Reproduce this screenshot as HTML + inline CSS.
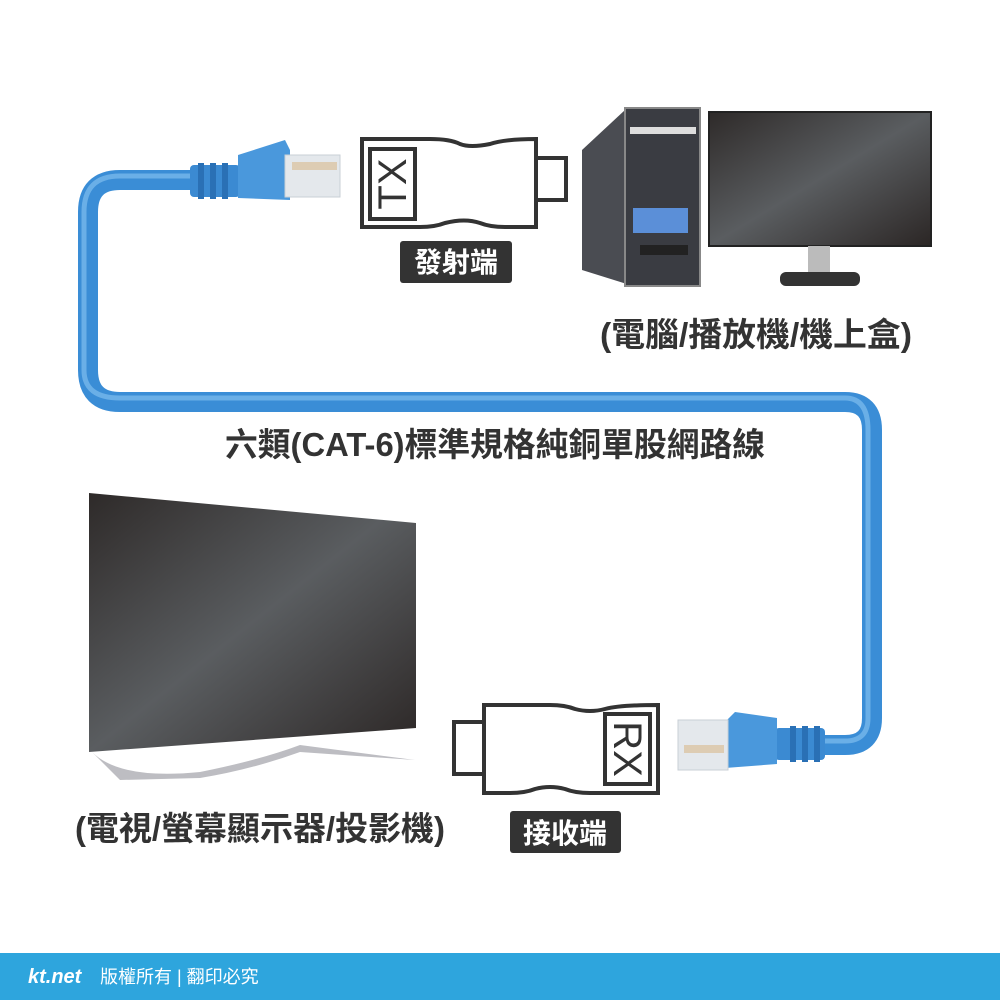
<!DOCTYPE html>
<html><head><meta charset="utf-8"><style>
html,body{margin:0;padding:0;background:#fff;}
svg{display:block;}
text{font-family:"Liberation Sans","Noto Sans CJK TC",sans-serif;}
</style></head><body>
<svg width="1000" height="1000" viewBox="0 0 1000 1000" xmlns="http://www.w3.org/2000/svg">
<defs>
<linearGradient id="scr" x1="0" y1="0" x2="1" y2="1">
<stop offset="0" stop-color="#2e2a29"/><stop offset="0.5" stop-color="#5a5d60"/><stop offset="1" stop-color="#2b2625"/>
</linearGradient>
</defs>
<!-- cable -->
<path d="M200,180 L120,180 Q88,180 88,212 L88,370 Q88,402 120,402 L845,402 Q872,402 872,430 L872,718 Q872,745 845,745 L815,745" fill="none" stroke="#3a8dd6" stroke-width="20"/>
<path d="M200,176 L120,176 Q84,176 84,212 L84,370 Q84,398 120,398 L845,398 Q868,398 868,430 L868,718 Q868,741 845,741 L815,741" fill="none" stroke="#7fbdee" stroke-width="5" opacity="0.7"/>
<!-- left rj45 -->
<g>
<rect x="190" y="165" width="50" height="32" rx="4" fill="#3b8ad2"/>
<rect x="198" y="163" width="6" height="36" fill="#2a70b5"/><rect x="210" y="163" width="6" height="36" fill="#2a70b5"/><rect x="222" y="163" width="6" height="36" fill="#2a70b5"/>
<path d="M238,155 L285,140 L290,150 L290,200 L238,198 Z" fill="#4a98dc"/>
<rect x="285" y="155" width="55" height="42" fill="#e4e8ec" stroke="#c8cfd6"/>
<rect x="292" y="162" width="45" height="8" fill="#d9b98d" opacity="0.6"/>
</g>
<!-- right rj45 -->
<g>
<rect x="775" y="728" width="50" height="32" rx="4" fill="#3b8ad2"/>
<rect x="790" y="726" width="6" height="36" fill="#2a70b5"/><rect x="802" y="726" width="6" height="36" fill="#2a70b5"/><rect x="814" y="726" width="6" height="36" fill="#2a70b5"/>
<path d="M777,718 L735,712 L725,722 L725,768 L777,764 Z" fill="#4a98dc"/>
<rect x="678" y="720" width="50" height="50" fill="#e4e8ec" stroke="#c8cfd6"/>
<rect x="684" y="745" width="40" height="8" fill="#d9b98d" opacity="0.6"/>
</g>
<!-- TX -->
<g fill="none" stroke="#333" stroke-width="4">
<path d="M362,139 L430,139 Q450,139 460,144 Q470,148 490,144 Q505,139 536,139 L536,227 L505,227 Q490,227 480,223 Q465,218 445,223 Q435,227 420,227 L362,227 Z" fill="#fff"/>
<rect x="536" y="158" width="30" height="42" fill="#fff"/>
<rect x="370" y="149" width="45" height="70"/>
</g>
<text transform="translate(392,184) rotate(-90)" text-anchor="middle" font-size="40" fill="#333" x="0" y="14">TX</text>
<rect x="400" y="241" width="112" height="42" rx="3" fill="#333"/>
<text x="456" y="272" text-anchor="middle" font-size="28" font-weight="bold" fill="#fff">發射端</text>
<!-- RX -->
<g fill="none" stroke="#333" stroke-width="4">
<path d="M484,705 L550,705 Q565,705 575,709 Q590,713 605,709 Q620,705 658,705 L658,793 L590,793 Q575,793 565,789 Q550,785 535,789 Q525,793 510,793 L484,793 Z" fill="#fff"/>
<rect x="454" y="722" width="30" height="52" fill="#fff"/>
<rect x="605" y="714" width="45" height="70"/>
</g>
<text transform="translate(628,749) rotate(90)" text-anchor="middle" font-size="40" fill="#333" x="0" y="14">RX</text>
<rect x="510" y="811" width="111" height="42" rx="3" fill="#333"/>
<text x="565" y="843" text-anchor="middle" font-size="28" font-weight="bold" fill="#fff">接收端</text>
<!-- tower -->
<path d="M582,150 L625,110 L630,285 L582,270 Z" fill="#4a4c52"/>
<rect x="625" y="108" width="75" height="178" fill="#3a3c42" stroke="#888" stroke-width="2"/>
<rect x="630" y="127" width="66" height="7" fill="#ddd"/>
<rect x="633" y="208" width="55" height="25" fill="#5b8fd8"/>
<rect x="640" y="245" width="48" height="10" fill="#222"/>
<!-- monitor -->
<rect x="709" y="112" width="222" height="134" fill="url(#scr)" stroke="#222" stroke-width="2"/>
<rect x="808" y="246" width="22" height="30" fill="#bbb"/>
<rect x="780" y="272" width="80" height="14" rx="6" fill="#333"/>
<!-- TV -->
<polygon points="89,493 416,523 416,728 89,752" fill="url(#scr)"/>
<path d="M92,752 Q120,780 200,772 Q260,760 300,745 L415,760 L300,752 Q250,770 200,778 L120,780 Z" fill="#bdbdc2"/>
<!-- labels -->
<text x="756" y="346" text-anchor="middle" font-size="33" font-weight="bold" fill="#333" textLength="312" lengthAdjust="spacingAndGlyphs">(電腦/播放機/機上盒)</text>
<text x="495" y="456" text-anchor="middle" font-size="33" font-weight="bold" fill="#333" textLength="540" lengthAdjust="spacingAndGlyphs">六類(CAT-6)標準規格純銅單股網路線</text>
<text x="260" y="840" text-anchor="middle" font-size="33" font-weight="bold" fill="#333" textLength="370" lengthAdjust="spacingAndGlyphs">(電視/螢幕顯示器/投影機)</text>
<!-- footer -->
<rect x="0" y="953" width="1000" height="47" fill="#2ea5dd"/>
<text x="28" y="983" font-size="20" font-weight="bold" font-style="italic" fill="#fff">kt.net</text>
<text x="100" y="983" font-size="18" fill="#fff">版權所有 | 翻印必究</text>
</svg>
</body></html>
